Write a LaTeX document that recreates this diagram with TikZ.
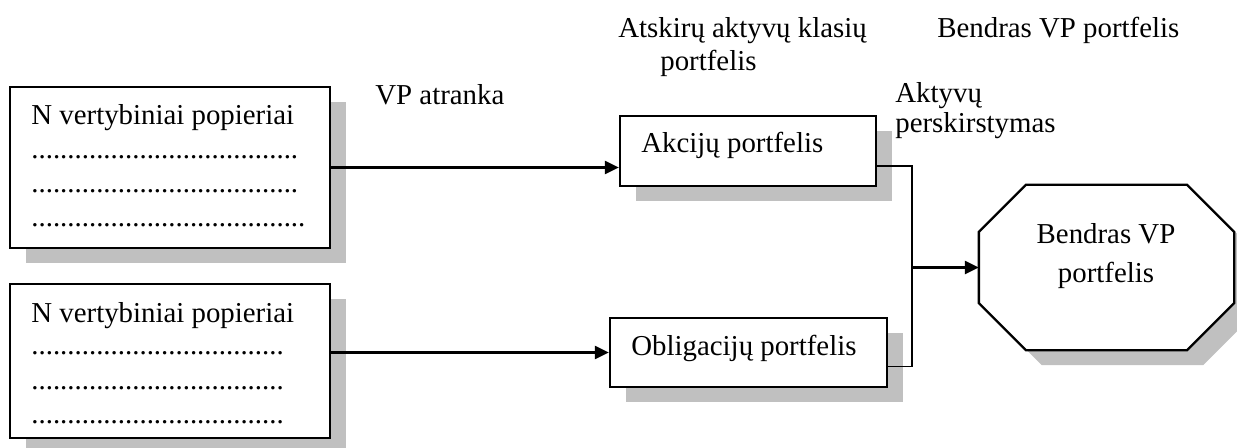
\documentclass[tikz,border=0pt]{standalone}
\usepackage{fontspec}
\setmainfont{Liberation Serif}
\usetikzlibrary{arrows.meta,shadows,calc}
\definecolor{sh_grey}{RGB}{192, 192, 192}
\tikzstyle{bx}=[rectangle,draw=black,fill=white,line width=1.2pt,
  drop shadow={shadow xshift=8.3pt,shadow yshift=-7.8pt,fill=sh_grey,opacity=1}]
\tikzstyle{octa}=[draw=black,fill=white,line width=1.2pt,
  drop shadow={shadow xshift=8.3pt,shadow yshift=-7.8pt,fill=sh_grey,opacity=1}]
\tikzstyle{frame}=[rectangle,inner sep=0pt,outer sep=0.6pt]
\tikzstyle{txt}=[anchor=base west,inner sep=0pt]
\tikzstyle{ctxt}=[anchor=base,inner sep=0pt]
\tikzstyle{arr}=[line width=1.1pt,-{Triangle[length=7.3pt,width=6.8pt]}]
\tikzstyle{ln}=[line width=0.8pt]

\begin{document}
\begin{tikzpicture}[x=0.52pt,y=-0.52pt,font=\fontsize{15pt}{18pt}\selectfont]
            \useasboundingbox (0,0) rectangle (1237,448);
            \node [style=bx,minimum width=166.4pt,minimum height=83.72pt] (0) at (170,167.5) {};
            \node [style=bx,minimum width=166.4pt,minimum height=80.08pt] (1) at (170,361) {};
            \node [style=bx,minimum width=133.12pt,minimum height=36.4pt] (2) at (748,151) {};
            \node [style=bx,minimum width=144.04pt,minimum height=35.88pt] (3) at (748.5,352.5) {};
            \node [style=frame,minimum width=131.56pt,minimum height=84.76pt] (4) at (1106.5,267.5) {};
            \draw [style=octa] ($(4.north west)+(47,0)$) -- ($(4.north east)+(-47,0)$)
              -- ($(4.north east)+(0,47)$) -- ($(4.south east)+(0,-47)$)
              -- ($(4.south east)+(-47,0)$) -- ($(4.south west)+(47,0)$)
              -- ($(4.south west)+(0,-47)$) -- ($(4.north west)+(0,47)$) -- cycle;
            \coordinate (5) at (912,267.5);
            \node [style=txt] (6) at (31,125) {N vertybiniai popieriai};
            \node [style=txt] (7) at (31,159) {.....................................};
            \node [style=txt] (8) at (31,193) {.....................................};
            \node [style=txt] (9) at (31,227) {......................................};
            \node [style=txt] (10) at (31,322) {N vertybiniai popieriai};
            \node [style=txt] (11) at (31,354) {...................................};
            \node [style=txt] (12) at (31,389) {...................................};
            \node [style=txt] (13) at (31,423) {...................................};
            \node [style=txt] (14) at (641,153) {Akcijų portfelis};
            \node [style=txt] (15) at (631,355) {Obligacijų portfelis};
            \node [style=ctxt] (16) at (1106,243) {Bendras VP};
            \node [style=ctxt] (17) at (1106,282) {portfelis};
            \node [style=txt] (18) at (375,105) {VP atranka};
            \node [style=txt] (19) at (618,38) {Atskirų aktyvų klasių};
            \node [style=txt] (20) at (660,71) {portfelis};
            \node [style=txt] (21) at (937,38) {Bendras VP portfelis};
            \node [style=txt] (22) at (895,103) {Aktyvų};
            \node [style=txt] (23) at (895,133) {perskirstymas};
            \draw [style=arr] (0.east) to (0.east -| 2.west);
            \draw [style=arr] (1.east |- 3.west) to (3.west);
            \draw [style=ln] ($(2.east)+(0,15)$) -| (5) |- ($(3.east)+(0,14)$);
            \draw [style=arr] (5) to (4.west);
    \end{tikzpicture}
\end{document}
